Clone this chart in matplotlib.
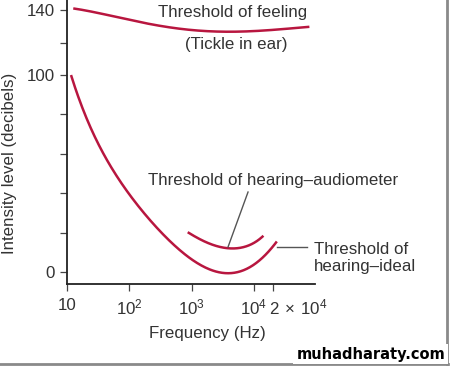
import numpy as np
import matplotlib
matplotlib.use("Agg")
import matplotlib.pyplot as plt
import matplotlib.transforms as mtransforms
from matplotlib.lines import Line2D

plt.rcParams['font.family'] = ['Liberation Sans', 'DejaVu Sans']
plt.rcParams['mathtext.fontset'] = 'custom'
plt.rcParams['mathtext.rm'] = 'Liberation Sans'

# ---- data ----
feel_freq = [12.6, 34, 115, 400, 1365, 3630, 9800, 29500, 77600]
feel_db = [141, 138, 133.4, 129.7, 127.3, 126.6, 127.1, 128.3, 129.7]

ideal_freq = [11.6, 18.3, 34, 63, 116, 214, 400, 736, 1365, 2520, 3630, 6000, 9800, 16000, 23300]
ideal_db = [100, 82, 63.6, 48.4, 36.5, 26.4, 17.6, 9.5, 3.6, 0.2, -0.7, 0.2, 3.6, 9.5, 15.4]

audio_freq = [865, 1365, 2240, 3880, 6000, 9800, 14200]
audio_db = [20.2, 16.6, 13.7, 12.0, 12.3, 14.6, 18.4]

xtick_vals = [10, 100, 1000, 10000, 20000]
xtick_labels = ['10', r'$\mathregular{10^2}$', r'$\mathregular{10^3}$',
                r'$\mathregular{10^4}$', r'$\mathregular{2\,\times\,10^4}$']
ytick_vals = [0, 20, 40, 60, 80, 100, 120, 140]
ytick_labels = ['0', '', '', '', '', '100', '', '140']

RED = '#b8163f'
GREY = '#555555'
TXT = '#333333'
FS = 12.2

# piecewise y scale (upper part of the schematic is compressed)
K = 0.825
def fwd(y):
    y = np.asarray(y, dtype=float)
    return np.where(y <= 100, y, 100 + (y - 100) * K)
def inv(y):
    y = np.asarray(y, dtype=float)
    return np.where(y <= 100, y, 100 + (y - 100) / K)

fig = plt.figure(figsize=(4.51, 3.67), dpi=100)
ax = fig.add_axes([67/451, 83/367, 248/451, 284/367])
ax.set_xscale('log')
ax.set_yscale('function', functions=(fwd, inv))
ax.set_xlim(10, 95500)
ax.set_ylim(-6.1, 146.2)

def smooth(xs, ys, n=200):
    lx = np.log10(xs)
    t = np.linspace(lx[0], lx[-1], n)
    c = np.polyfit(lx, ys, min(5, len(xs) - 1))
    return 10 ** t, np.polyval(c, t)

for fx, fy in [(feel_freq, feel_db), (ideal_freq, ideal_db), (audio_freq, audio_db)]:
    sx, sy = smooth(fx, fy)
    ax.plot(sx, sy, color=RED, lw=1.8, solid_capstyle='butt', clip_on=False)

ax.spines['top'].set_visible(False)
ax.spines['right'].set_visible(False)
for s in ('left', 'bottom'):
    ax.spines[s].set_linewidth(1.3)
    ax.spines[s].set_color('#222222')

ax.set_xticks(xtick_vals)
ax.set_xticklabels(xtick_labels)
ax.xaxis.set_minor_locator(matplotlib.ticker.NullLocator())
ax.set_yticks(ytick_vals)
ax.set_yticklabels(ytick_labels)
ax.yaxis.set_minor_locator(matplotlib.ticker.NullLocator())
ax.tick_params(axis='both', direction='out', length=5, width=0.9, color='#444444',
               labelsize=FS, labelcolor=TXT)
ax.tick_params(axis='x', pad=5)
ax.tick_params(axis='y', pad=4)

last = ax.get_xticklabels()[-1]
last.set_horizontalalignment('left')
last.set_transform(last.get_transform() +
                   mtransforms.ScaledTranslation(-4/100, 0, fig.dpi_scale_trans))

ax.set_xlabel('Frequency (Hz)', fontsize=FS, color=TXT, va='center')
ax.xaxis.set_label_coords(0.565, -0.173)
ax.set_ylabel('Intensity level (decibels)', fontsize=FS, color=TXT, va='center')
ax.yaxis.set_label_coords(-0.23, 0.426)

ax.text(4580, 138.2, 'Threshold of feeling', fontsize=FS, color=TXT,
        ha='center', va='center')
ax.text(5160, 119, '(Tickle in ear)', fontsize=FS, color=TXT,
        ha='center', va='center')
ax.text(20500, 46.7, 'Threshold of hearing–audiometer', fontsize=FS, color=TXT,
        ha='center', va='center', clip_on=False)
ax.plot([8040, 3840], [40.6, 12.7], color=GREY, lw=1.0, clip_on=False)
ax.text(92000, 7.1, 'Threshold of\nhearing–ideal', fontsize=FS, color=TXT,
        ha='left', va='center', linespacing=1.15, clip_on=False)
ax.plot([23400, 70500], [12.7, 12.7], color=GREY, lw=1.0, clip_on=False)

# frame shadow
fig.add_artist(Line2D([447/451, 447/451], [3/367, 1], color='#8a8a8a', lw=2,
                      transform=fig.transFigure))
fig.add_artist(Line2D([0, 448/451], [3/367, 3/367], color='#8a8a8a', lw=2,
                      transform=fig.transFigure))

fig.text(445/451, 13/367, 'muhadharaty.com', fontsize=10.5, fontweight='bold',
         family='DejaVu Sans', color='black', ha='right', va='center',
         bbox=dict(facecolor='white', edgecolor='none', pad=2))

fig.savefig('out.png', dpi=100)
